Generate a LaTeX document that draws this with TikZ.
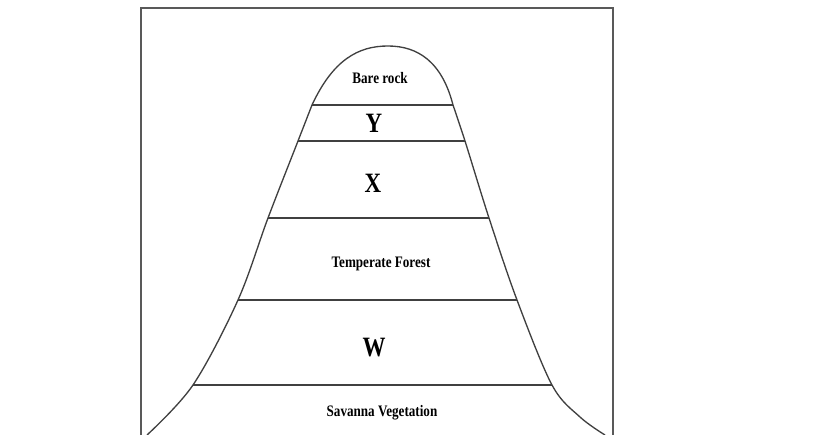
\documentclass[tikz,border=0pt]{standalone}
\usepackage{fontspec}
\setmainfont{Liberation Serif}
\newfontfamily\zonefont[FakeStretch=0.82]{Liberation Serif}

\begin{document}
\begin{tikzpicture}[x=0.75pt,y=-0.75pt,
  zone/.style={font=\zonefont\bfseries\fontsize{12}{14}\selectfont},
  letter/.style={font=\zonefont\bfseries\fontsize{21}{24}\selectfont},
  slope/.style={black!75, line width=1pt},
  belt/.style={line width=1.4pt, black!75}]
\useasboundingbox (0,0) rectangle (814,435);
% frame
\draw[black!65, line width=0.9pt] (141,435) -- (141,8) -- (613,8) -- (613,435);
% mountain outline
\draw[slope] plot[smooth, tension=0.55] coordinates {
  (147,435) (193,385) (238,300) (268,218) (298,141) (312,105)};
\draw[slope] (312,105) .. controls (333,60) and (358,46) .. (388,46)
  .. controls (418,46) and (442,62) .. (453,105);
\draw[slope] plot[smooth, tension=0.55] coordinates {
  (453,105) (465,141) (489,218) (517,300) (552,385) (580,417) (605,435)};
% vegetation belts
\foreach \y/\l/\r in {105/312/453, 141/298/465, 218/268/489, 300/238/517, 385/193/552}
  \draw[belt] (\l,\y) -- (\r,\y);
% labels
\node[zone] (rock) at (380,78) {Bare rock};
\node[letter] (y) at (374,123) {Y};
\node[letter] (x) at (373,183) {X};
\node[zone] (temperate) at (381,264) {Temperate Forest};
\node[letter] (w) at (374,348) {W};
\node[zone] (savanna) at (382,413) {Savanna Vegetation};
\end{tikzpicture}
\end{document}
